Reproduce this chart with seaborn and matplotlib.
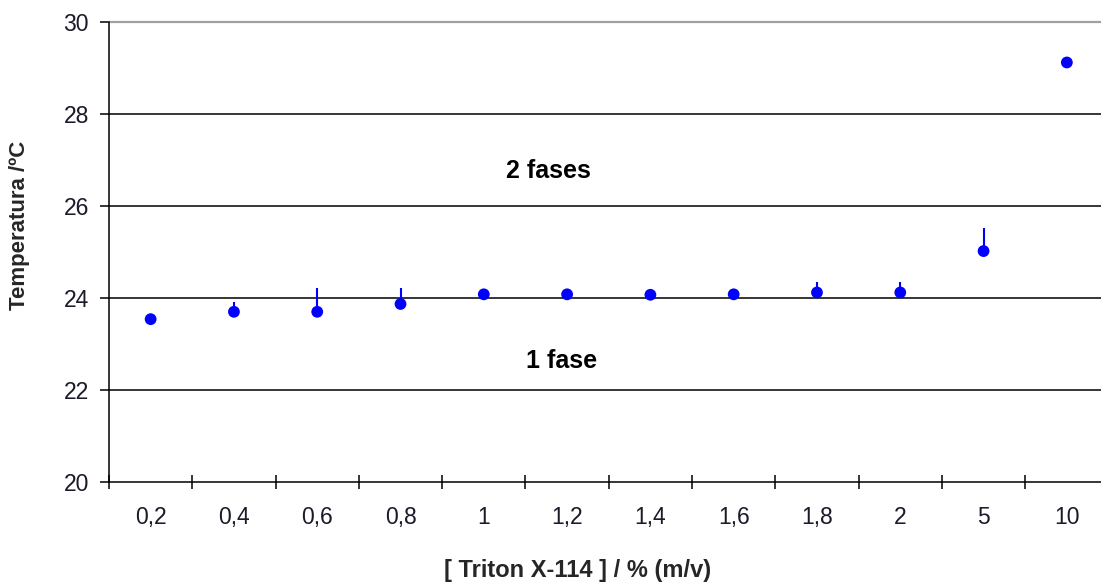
import matplotlib
matplotlib.use("Agg")
import matplotlib.pyplot as plt
from matplotlib.ticker import MultipleLocator
import seaborn as sns
import numpy as np
import pandas as pd

# ---- data ----
categories = ["0,2", "0,4", "0,6", "0,8", "1", "1,2", "1,4", "1,6", "1,8", "2", "5", "10"]
temperature = [23.54, 23.70, 23.70, 23.87, 24.08, 24.08, 24.07, 24.08, 24.12, 24.12, 25.02, 29.12]
err_upper = [0.0, 0.21, 0.51, 0.34, 0.03, 0.03, 0.03, 0.03, 0.23, 0.23, 0.50, 0.0]
y_ticks = [20, 22, 24, 26, 28, 30]
grid_levels = [22, 24, 26, 28]
label_two_phases = "2 fases"
label_one_phase = "1 fase"
x_title = "[ Triton X-114 ] / % (m/v)"
y_title = "Temperatura /ºC"

df = pd.DataFrame({"conc": categories, "temp": temperature, "err": err_upper})

sns.set_theme(style="white")
plt.rcParams["font.family"] = ["Liberation Sans", "DejaVu Sans"]

W, H = 1101, 583
fig = plt.figure(figsize=(W / 100, H / 100), dpi=100)
left, right, bottom, top = 109, 1101, 482, 22
ax = fig.add_axes([left / W, 1 - bottom / H, (right - left) / W, (bottom - top) / H])

# gridlines
for g in grid_levels:
    ax.axhline(g, color="black", lw=1.1, zorder=1)
ax.axhline(30, color="#a0a0a0", lw=1.6, zorder=1, clip_on=False)

# error bars (upper only)
ax.errorbar(df["conc"], df["temp"], yerr=[np.zeros(len(df)), df["err"]],
            fmt="none", ecolor="#0000ff", elinewidth=1.5, capsize=0, zorder=2)

sns.scatterplot(data=df, x="conc", y="temp", ax=ax, color="#0000ff", s=72,
                edgecolor="none", zorder=3, legend=False)

ax.set_ylim(20, 30)
ax.set_xlim(-0.5, 11.41)
ax.set_yticks(y_ticks)
ax.set_yticklabels([str(t) for t in y_ticks])

for s in ["top", "right"]:
    ax.spines[s].set_visible(False)
for s in ["left", "bottom"]:
    ax.spines[s].set_color("black")
    ax.spines[s].set_linewidth(1.1)

ax.tick_params(axis="y", which="major", direction="out", length=6.5, width=1.1,
               color="black", labelsize=16.5, pad=8, left=True, labelcolor="#1a1a2a")
ax.tick_params(axis="x", which="major", length=0, labelsize=16.5, pad=17, bottom=True,
               labelcolor="#1a1a2a")
ax.xaxis.set_minor_locator(MultipleLocator(1.0, offset=0.5))
ax.tick_params(axis="x", which="minor", direction="inout", length=10, width=1.1,
               color="black", bottom=True)

ax.set_xlabel(x_title, fontsize=17, fontweight="bold")
ax.xaxis.set_label_coords((578 - left) / (right - left), (bottom - 570) / (bottom - top))
ax.xaxis.label.set_va("center")
ax.set_ylabel(y_title, fontsize=16, fontweight="bold")
ax.yaxis.set_label_coords((20 - left) / (right - left), (bottom - 225) / (bottom - top))
ax.yaxis.label.set_va("center")

ax.text(4.77, 26.76, label_two_phases, fontsize=18, fontweight="bold",
        ha="center", va="center", color="black")
ax.text(4.93, 22.63, label_one_phase, fontsize=18, fontweight="bold",
        ha="center", va="center", color="black")

fig.savefig("out.png", dpi=100)
